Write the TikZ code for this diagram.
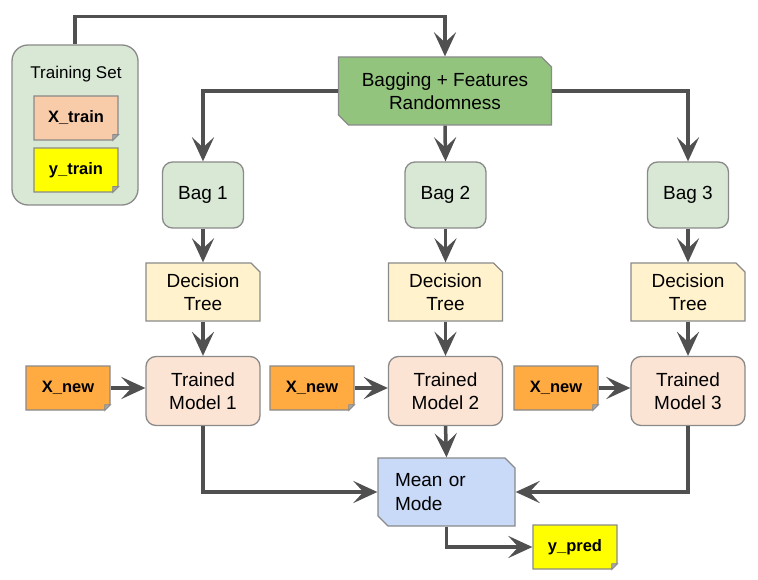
\documentclass[tikz,border=0pt]{standalone}
\usepackage{fontspec}
\setmainfont{Liberation Sans}
\usetikzlibrary{shapes.misc,arrows.meta,calc}

\definecolor{edgegray}{HTML}{8A8A8A}
\definecolor{linegray}{HTML}{505050}
\definecolor{setgreen}{HTML}{D8E8D5}
\definecolor{baggreen}{HTML}{92C47E}
\definecolor{dtyellow}{HTML}{FFF2CC}
\definecolor{tmpeach}{HTML}{FCE4D4}
\definecolor{xpeach}{HTML}{F8CBA9}
\definecolor{ylw}{HTML}{FFFF00}
\definecolor{xorange}{HTML}{FFAB42}
\definecolor{meanblue}{HTML}{C9DAF8}

\newcommand{\mainsize}{\fontsize{19}{23.5}\selectfont}
\newcommand{\labelsize}{\fontsize{17}{20}\selectfont}
\newcommand{\notesize}{\fontsize{16.5}{20}\selectfont\bfseries}

\tikzset{
  box/.style={draw=edgegray, line width=1.3pt, font=\mainsize, align=center, inner sep=0pt},
  rbox/.style={box, rectangle, rounded corners=10pt},
  cham/.style={box, chamfered rectangle, chamfered rectangle xsep=5pt,
               chamfered rectangle ysep=5pt},
  note/.style={box, font=\notesize, chamfered rectangle,
               chamfered rectangle corners=south east,
               chamfered rectangle xsep=3pt, chamfered rectangle ysep=3pt,
               minimum width=84pt, minimum height=44pt},
  fold/.style={fill=black!35, draw=edgegray, line width=0.8pt},
  arr/.style={draw=linegray, line width=3.5pt,
              -{Stealth[length=24pt, width=22pt, inset=10pt]}},
}

\begin{document}
\begin{tikzpicture}[x=1pt, y=-1pt]
\fill[white] (0,0) rectangle (758,580);
\useasboundingbox (0,0) rectangle (758,580);

% training data
\node[rbox, fill=setgreen, rounded corners=16pt,
      minimum width=126pt, minimum height=160pt] (train) at (75,125) {};
\node[font=\labelsize] (trainlabel) at (76,74) {Training Set};
\node[note, fill=xpeach] (xtrain) at (76,118) {X\_train};
\node[note, fill=ylw] (ytrain) at (76,170) {y\_train};

% bagging step
\node[cham, chamfered rectangle corners={north east, south west}, fill=baggreen,
      minimum width=213pt, minimum height=68pt] (bagging) at (445,91)
      {Bagging + Features\\Randomness};

% the three bags
\foreach \i/\x in {1/203, 2/445.5, 3/688} {
  \node[rbox, fill=setgreen, minimum width=81pt, minimum height=66pt]
    (bag\i) at (\x,195) {Bag \i};
  \node[cham, chamfered rectangle corners=north east, fill=dtyellow,
        chamfered rectangle xsep=4.5pt, chamfered rectangle ysep=4.5pt,
        minimum width=114pt, minimum height=58pt]
    (dt\i) at (\x,292) {Decision\\Tree};
  \node[rbox, fill=tmpeach, minimum width=114pt, minimum height=69pt]
    (tm\i) at (\x,391) {Trained\\Model \i};
}
\node[note, fill=xorange] (xn1) at (68,388) {X\_new};
\node[note, fill=xorange] (xn2) at (312,388) {X\_new};
\node[note, fill=xorange] (xn3) at (556,388) {X\_new};

% aggregation
\node[cham, chamfered rectangle corners={north east, south west}, fill=meanblue,
      minimum width=137pt, minimum height=68pt, text width=103pt, align=left]
      (mean) at (446.5,492) {Mean or\\Mode};
\node[note, fill=ylw] (ypred) at (575,547) {y\_pred};

% folded corners of the notes
\foreach \n in {xtrain, ytrain, xn1, xn2, xn3, ypred} {
  \coordinate (c) at (\n.north east |- \n.south west);
  \filldraw[fold] ($(c)+(-6,0)$) -- ($(c)+(0,-6)$) -- ($(c)+(-6,-6)$) -- cycle;
}

% connectors
\draw[arr] (train.north) -- ++(0,-28) -| (bagging.north);
\draw[arr] (bagging.west) -| (bag1.north);
\draw[arr] (bagging.south) -- (bag2.north);
\draw[arr] (bagging.east) -| (bag3.north);
\foreach \i in {1,2,3} {
  \draw[arr] (bag\i.south) -- (dt\i.north);
  \draw[arr] (dt\i.south) -- (tm\i.north);
  \draw[arr] (xn\i.east) -- (xn\i.east -| tm\i.west);
}
\draw[arr] (tm1.south) |- (mean.west);
\draw[arr] (tm2.south) -- (mean.north);
\draw[arr] (tm3.south) |- (mean.east);
\draw[arr] (mean.south) |- (ypred.west);
\end{tikzpicture}
\end{document}
